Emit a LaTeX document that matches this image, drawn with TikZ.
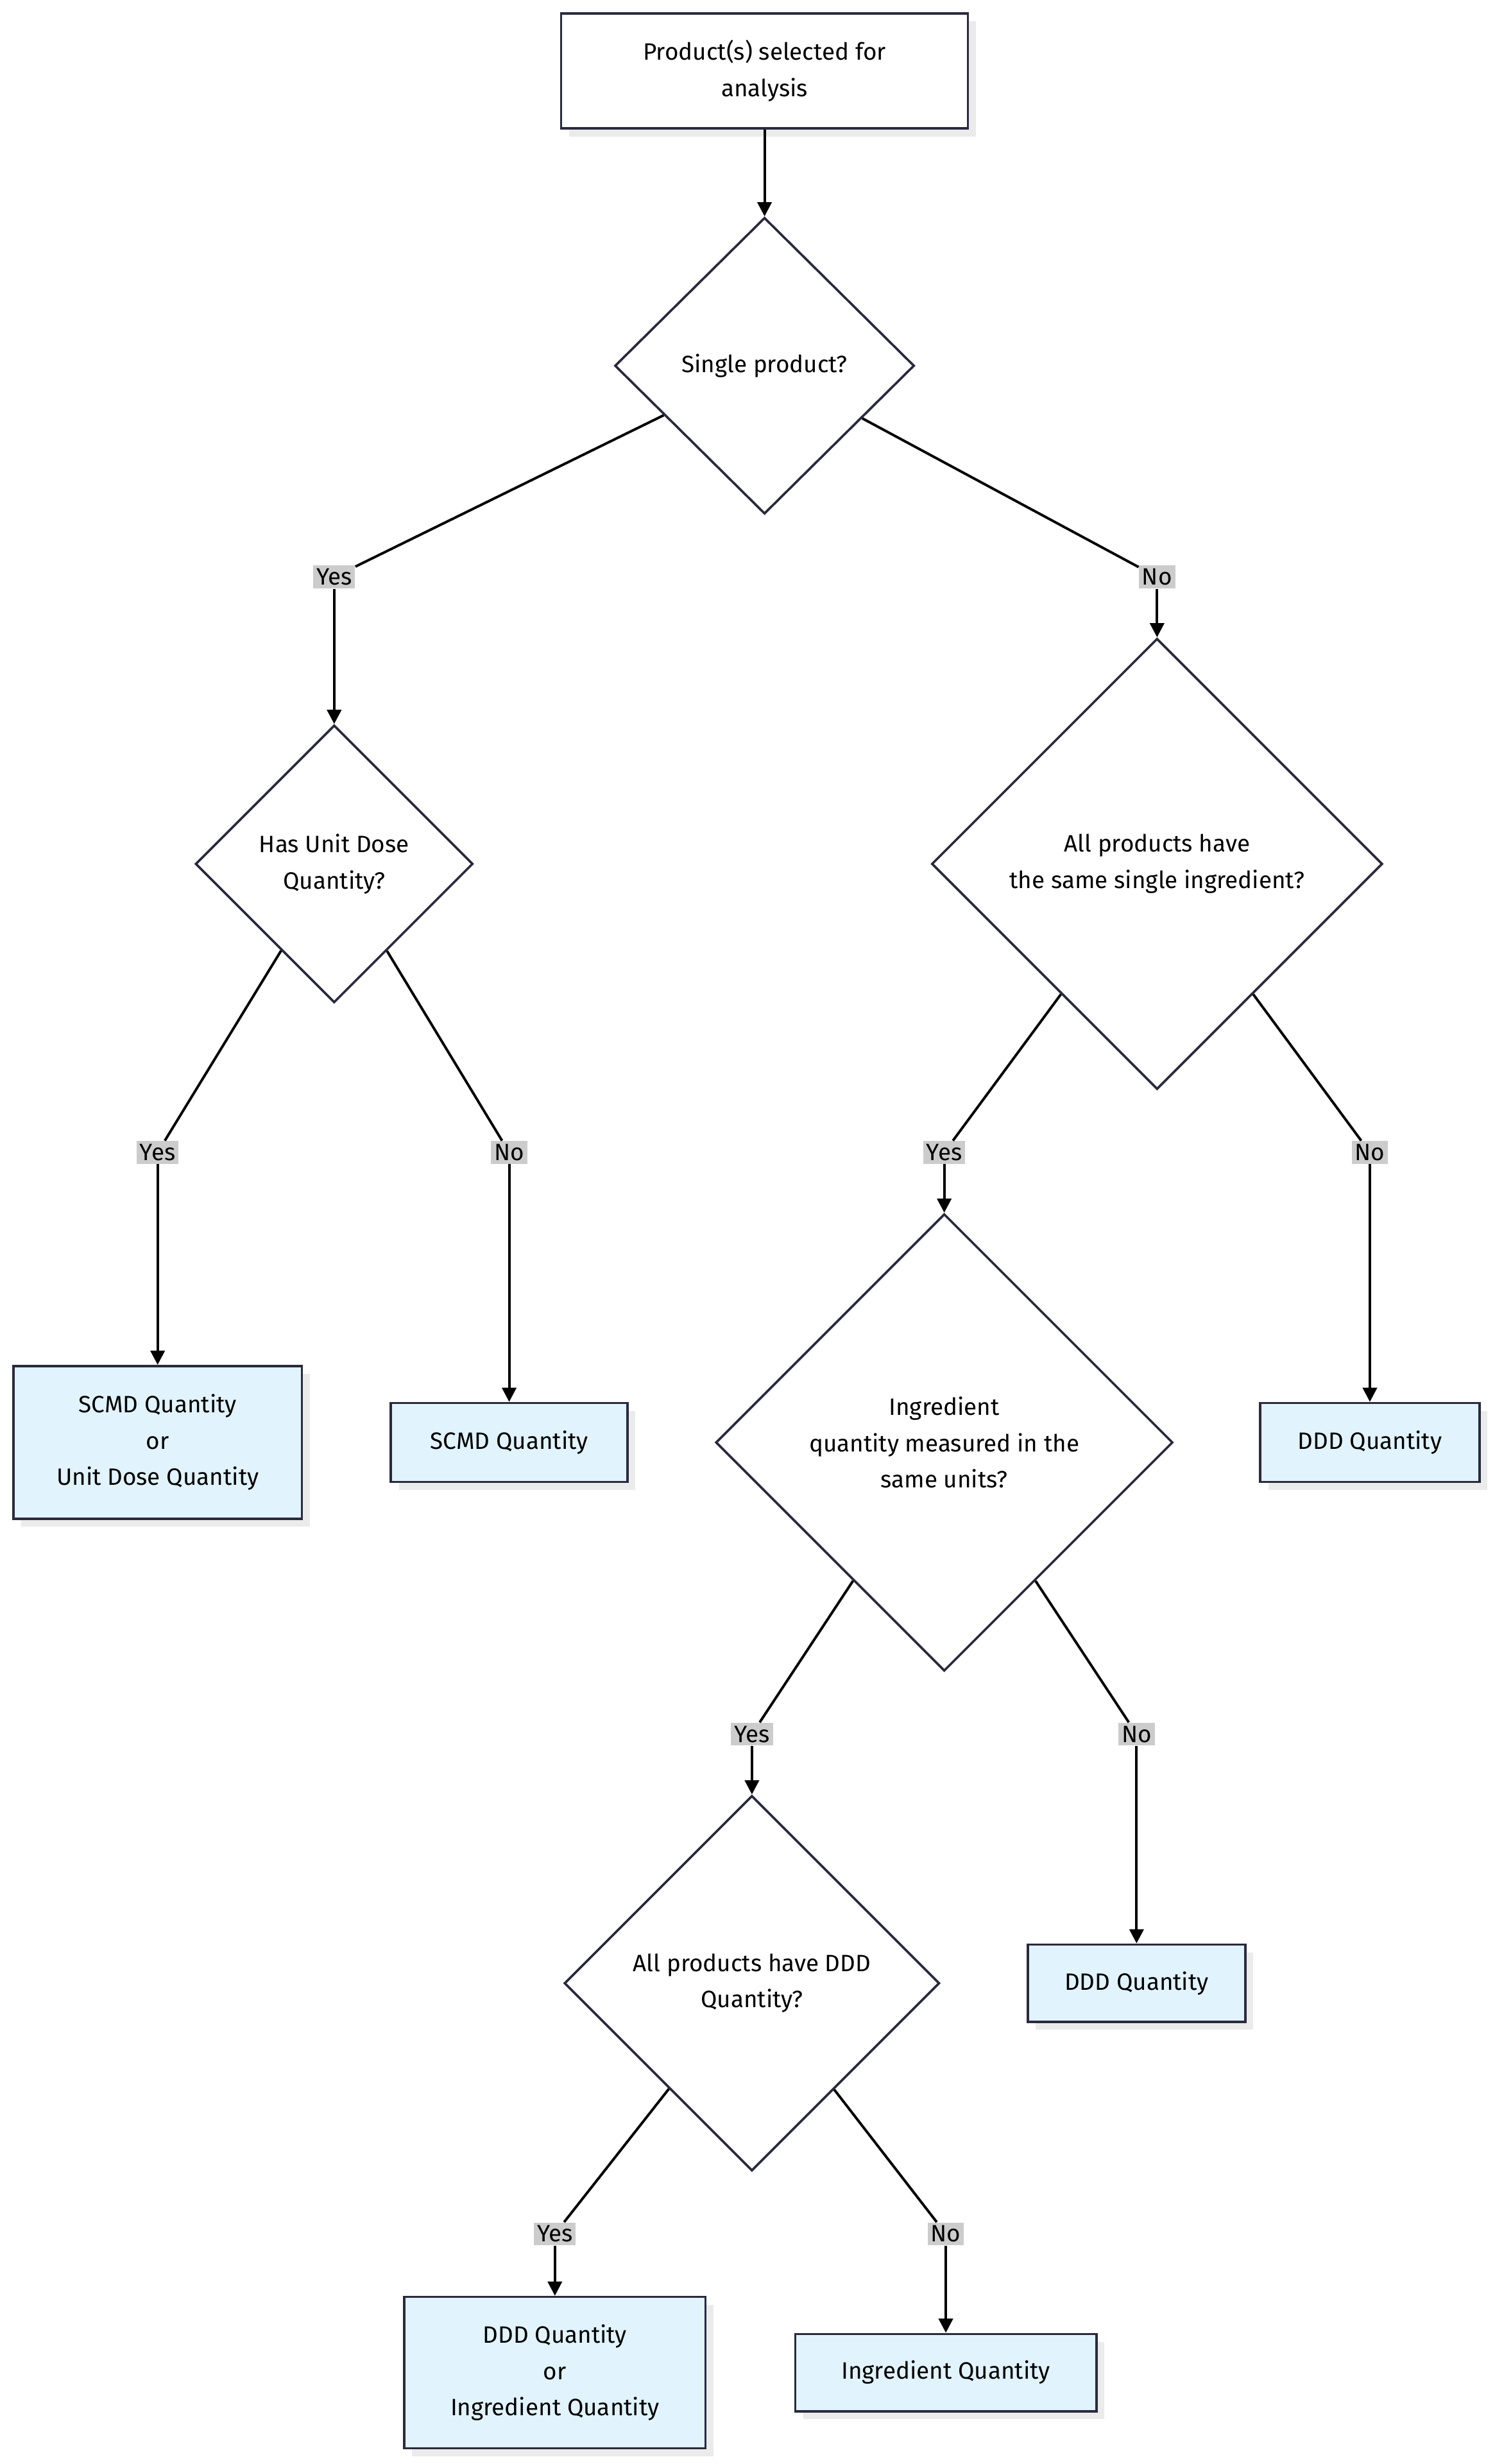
\documentclass[tikz,border=0pt]{standalone}
\usepackage{fontspec}
\setmainfont{Fira Sans}
\usetikzlibrary{shapes.geometric,shadows,arrows.meta}
\definecolor{boxfill}{HTML}{E1F3FC}
\definecolor{edgecol}{HTML}{2A2A3E}
\definecolor{lblgray}{HTML}{CCCCCC}
\tikzset{
  box/.style={draw=edgecol, line width=1.5pt, fill=boxfill, align=center, font=\fontsize{15}{23}\selectfont,
    inner sep=0pt, drop shadow={shadow xshift=5pt, shadow yshift=-5pt, fill=black!8, opacity=1}},
  start/.style={box, fill=white},
  decision/.style={diamond, draw=edgecol, line width=1.5pt, fill=white, align=center, inner sep=0pt,
    font=\fontsize{15}{23}\selectfont},
  lbl/.style={fill=lblgray, inner sep=2pt, font=\fontsize{15}{18}\selectfont},
  link/.style={line width=1.6pt, draw=black},
  arr/.style={link, -{Triangle[length=9pt,width=9pt]}}
}
\begin{document}
\begin{tikzpicture}[x=1pt,y=-1pt]
\useasboundingbox (0,0) rectangle (948,1563);
% boxes and decisions
\node[start, minimum width=258pt, minimum height=73pt] (prod) at (485,45) {Product(s) selected for\\analysis};
\node[decision, minimum width=190pt, minimum height=188pt] (single) at (485,232) {Single product?};
\node[decision, minimum width=176pt, minimum height=176pt] (unit) at (212,548) {Has Unit Dose\\Quantity?};
\node[decision, minimum width=286pt, minimum height=286pt] (same) at (734,548) {All products have\\the same single ingredient?};
\node[box, minimum width=183pt, minimum height=97pt] (scmdor) at (100,915) {SCMD Quantity\\or\\Unit Dose Quantity};
\node[box, minimum width=150pt, minimum height=50pt] (scmd) at (323,915) {SCMD Quantity};
\node[decision, minimum width=290pt, minimum height=290pt] (units) at (599,915) {Ingredient\\quantity measured in the\\same units?};
\node[box, minimum width=139pt, minimum height=50pt] (ddda) at (869,915) {DDD Quantity};
\node[decision, minimum width=238pt, minimum height=238pt] (allddd) at (477,1258) {All products have DDD\\Quantity?};
\node[box, minimum width=138pt, minimum height=49pt] (dddb) at (721,1258) {DDD Quantity};
\node[box, minimum width=191pt, minimum height=96pt] (dddor) at (352,1505) {DDD Quantity\\or\\Ingredient Quantity};
\node[box, minimum width=191pt, minimum height=49pt] (ingr) at (600,1505) {Ingredient Quantity};
% edge labels
\node[lbl] (y1) at (212,366) {Yes};
\node[lbl] (n1) at (734,366) {No};
\node[lbl] (y2) at (100,731) {Yes};
\node[lbl] (n2) at (323,731) {No};
\node[lbl] (y3) at (599,731) {Yes};
\node[lbl] (n3) at (869,731) {No};
\node[lbl] (y4) at (477,1100) {Yes};
\node[lbl] (n4) at (721,1100) {No};
\node[lbl] (y5) at (352,1417) {Yes};
\node[lbl] (n5) at (600,1417) {No};
% connectors
\draw[arr] (prod) -- (single);
\draw[link] (single) -- (y1);
\draw[link] (single) -- (n1);
\foreach \d/\y/\n in {unit/y2/n2, same/y3/n3, units/y4/n4, allddd/y5/n5}{
  \draw[link] (\d) -- (\y);
  \draw[link] (\d) -- (\n);
}
\draw[arr] (y1) -- (unit.north);
\draw[arr] (n1) -- (same.north);
\draw[arr] (y2) -- (scmdor.north);
\draw[arr] (n2) -- (scmd.north);
\draw[arr] (y3) -- (units.north);
\draw[arr] (n3) -- (ddda.north);
\draw[arr] (y4) -- (allddd.north);
\draw[arr] (n4) -- (dddb.north);
\draw[arr] (y5) -- (dddor.north);
\draw[arr] (n5) -- (ingr.north);
\end{tikzpicture}
\end{document}
